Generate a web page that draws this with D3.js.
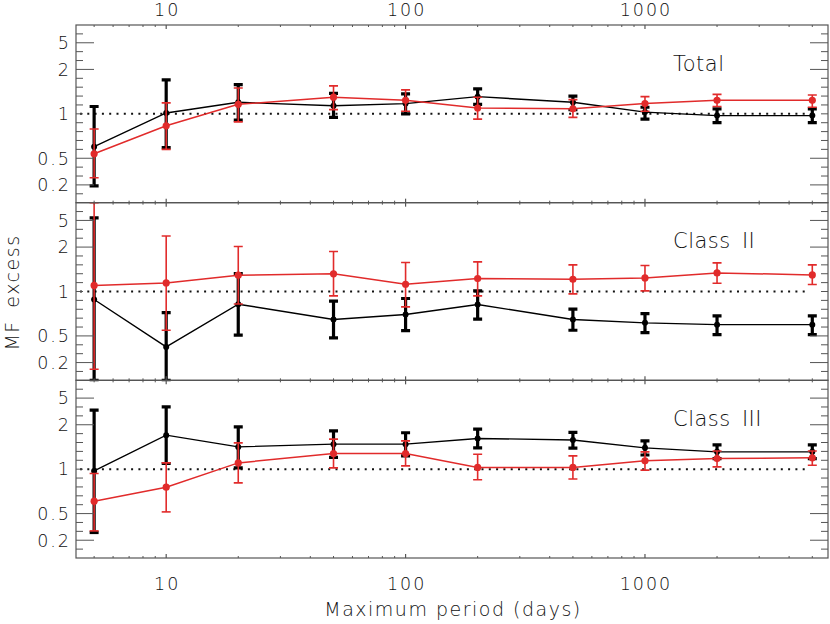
<!DOCTYPE html>
<html><head><meta charset="utf-8">
<script src="https://cdn.jsdelivr.net/npm/d3@7"></script>
<style>
html,body{margin:0;padding:0;background:#fff;}
text{font-family:"DejaVu Sans",sans-serif;font-weight:300;fill:#111;}
</style></head>
<body><svg id="c" width="830" height="624"></svg>
<script>
// ---- data ----
const periods = [5, 10, 20, 50, 100, 200, 500, 1000, 2000, 5000];
const panelNames = ["Total", "Class II", "Class III"];

// black series (value, lower, upper)
const totalBlack   = [0.63, 1.01, 1.15, 1.10, 1.13, 1.24, 1.15, 1.02, 0.98, 0.98];
const totalBlackLo = [0.19, 0.62, 0.93, 0.96, 1.00, 1.12, 1.05, 0.94, 0.90, 0.90];
const totalBlackHi = [1.09, 1.62, 1.49, 1.30, 1.29, 1.39, 1.25, 1.08, 1.06, 1.06];
const totalRed     = [0.55, 0.865, 1.12, 1.23, 1.18, 1.07, 1.06, 1.13, 1.18, 1.18];
const totalRedLo   = [0.28, 0.60, 0.91, 1.05, 1.03, 0.94, 0.96, 1.03, 1.09, 1.08];
const totalRedHi   = [0.83, 1.14, 1.41, 1.46, 1.37, 1.23, 1.19, 1.24, 1.28, 1.27];

const c2Black   = [0.91, 0.376, 0.857, 0.685, 0.741, 0.853, 0.685, 0.647, 0.627, 0.627];
const c2BlackLo = [0.0, 0.0, 0.508, 0.478, 0.56, 0.688, 0.564, 0.538, 0.514, 0.514];
const c2BlackHi = [5.85, 0.763, 1.253, 0.891, 0.921, 1.007, 0.801, 0.752, 0.725, 0.725];
const c2Red     = [1.073, 1.107, 1.225, 1.248, 1.089, 1.171, 1.16, 1.18, 1.265, 1.23];
const c2RedLo   = [0.125, 0.564, 0.86, 0.951, 0.827, 0.951, 0.973, 1.007, 1.103, 1.086];
const c2RedHi   = [1000, 2.67, 2.03, 1.82, 1.485, 1.5, 1.428, 1.413, 1.475, 1.428];

const c3Black   = [0.98, 1.62, 1.335, 1.392, 1.392, 1.529, 1.49, 1.316, 1.242, 1.242];
const c3BlackLo = [0.287, 1.068, 1.015, 1.152, 1.176, 1.316, 1.31, 1.19, 1.136, 1.136];
const c3BlackHi = [2.98, 3.35, 1.91, 1.76, 1.694, 1.82, 1.71, 1.468, 1.377, 1.377];
const c3Red     = [0.64, 0.797, 1.076, 1.214, 1.214, 1.02, 1.02, 1.104, 1.136, 1.146];
const c3RedLo   = [0.305, 0.519, 0.846, 1.015, 1.038, 0.881, 0.89, 0.989, 1.027, 1.047];
const c3RedHi   = [0.952, 1.076, 1.42, 1.51, 1.468, 1.203, 1.176, 1.242, 1.258, 1.258];

const yTickLabels = [0.2, 0.5, 1, 2, 5];
const yMinorTicks = [0.1,0.2,0.3,0.4,0.5,0.6,0.7,0.8,0.9,1,1.1111,1.25,1.4286,1.6667,2,2.5,3.3333,5,10];
const xMajorTicks = [10, 100, 1000];
const xMinorTicks = [5,6,7,8,9,20,30,40,50,60,70,80,90,200,300,400,500,600,700,800,900,2000,3000,4000,5000];

const panels = [
  {name: panelNames[0], black: [totalBlack, totalBlackLo, totalBlackHi], red: [totalRed, totalRedLo, totalRedHi]},
  {name: panelNames[1], black: [c2Black, c2BlackLo, c2BlackHi], red: [c2Red, c2RedLo, c2RedHi]},
  {name: panelNames[2], black: [c3Black, c3BlackLo, c3BlackHi], red: [c3Red, c3RedLo, c3RedHi]}
];

// ---- layout ----
const L = 76, R = 828, T = 25, B = 558;
const pH = (B - T) / 3;
const RED = "#e12b2b";
const FRAME = "#555";

const svg = d3.select("#c");
const x = d3.scaleLog().domain([4.2, 5815]).range([L, R]);
// symmetric excess transform: v<1 -> v-1 ; v>1 -> 1-1/v
const tf = v => v < 1 ? v - 1 : 1 - 1 / v;

panels.forEach((p, i) => {
  const top = T + i * pH, bot = top + pH;
  const ys = d3.scaleLinear().domain([-1, 1]).range([bot, top]);
  const y = v => ys(tf(v));
  const g = svg.append("g");
  const cid = "clip" + i;
  svg.append("clipPath").attr("id", cid).append("rect")
    .attr("x", L).attr("y", top - 1).attr("width", R - L).attr("height", pH + 2);
  const dg = g.append("g").attr("clip-path", `url(#${cid})`);

  // dotted reference line at 1
  dg.append("line").attr("x1", L + 4).attr("x2", R - 20).attr("y1", y(1)).attr("y2", y(1))
    .attr("stroke", "#111").attr("stroke-width", 2).attr("stroke-dasharray", "2,5.3");

  function drawSeries(s, color, barW, lineW, r) {
    const [val, lo, hi] = s;
    const pts = periods.map((d, k) => ({p: d, v: val[k], lo: lo[k], hi: hi[k]}));
    dg.append("path").datum(pts)
      .attr("d", d3.line().x(d => x(d.p)).y(d => y(d.v)))
      .attr("fill", "none").attr("stroke", color).attr("stroke-width", lineW);
    const eb = dg.append("g").selectAll("g").data(pts).join("g");
    eb.append("line").attr("x1", d => x(d.p)).attr("x2", d => x(d.p))
      .attr("y1", d => y(d.lo)).attr("y2", d => y(d.hi))
      .attr("stroke", color).attr("stroke-width", barW);
    [d => y(d.lo), d => y(d.hi)].forEach(fy => {
      eb.append("line").attr("x1", d => x(d.p) - 4.5).attr("x2", d => x(d.p) + 4.5)
        .attr("y1", fy).attr("y2", fy).attr("stroke", color).attr("stroke-width", barW);
    });
    eb.append("circle").attr("cx", d => x(d.p)).attr("cy", d => y(d.v)).attr("r", r).attr("fill", color);
  }
  drawSeries(p.black, "#000", 3.2, 1.4, 3);
  drawSeries(p.red, RED, 1.6, 1.5, 3.6);

  // frame
  g.append("rect").attr("x", L).attr("y", top).attr("width", R - L).attr("height", pH)
    .attr("fill", "none").attr("stroke", FRAME).attr("stroke-width", 1.2);

  // y ticks (both sides)
  yMinorTicks.forEach(v => {
    const isMaj = yTickLabels.includes(v) && v !== 1;
    const len = isMaj ? 18 : 7;
    g.append("line").attr("x1", L).attr("x2", L + len).attr("y1", y(v)).attr("y2", y(v))
      .attr("stroke", FRAME).attr("stroke-width", 1);
    g.append("line").attr("x1", R).attr("x2", R - len).attr("y1", y(v)).attr("y2", y(v))
      .attr("stroke", FRAME).attr("stroke-width", 1);
  });
  yTickLabels.forEach(v => {
    g.append("text").attr("x", 71).attr("y", y(v)).attr("dy", "0.36em")
      .attr("text-anchor", "end").attr("font-size", 17.5).attr("letter-spacing", 2).text(v);
  });

  // x ticks top & bottom of panel
  xMinorTicks.forEach(v => {
    g.append("line").attr("x1", x(v)).attr("x2", x(v)).attr("y1", top).attr("y2", top + 2)
      .attr("stroke", FRAME).attr("stroke-width", 1);
    g.append("line").attr("x1", x(v)).attr("x2", x(v)).attr("y1", bot).attr("y2", bot - 2)
      .attr("stroke", FRAME).attr("stroke-width", 1);
  });
  xMajorTicks.forEach(v => {
    g.append("line").attr("x1", x(v)).attr("x2", x(v)).attr("y1", top).attr("y2", top + 4)
      .attr("stroke", FRAME).attr("stroke-width", 1.2);
    g.append("line").attr("x1", x(v)).attr("x2", x(v)).attr("y1", bot).attr("y2", bot - 4)
      .attr("stroke", FRAME).attr("stroke-width", 1.2);
  });

  // panel label
  g.append("text").attr("x", 673).attr("y", top + 45.5).attr("font-size", 21)
    .attr("letter-spacing", 0.5).attr("word-spacing", 4).text(p.name);
});

// top & bottom x tick labels
xMajorTicks.forEach(v => {
  svg.append("text").attr("x", x(v) + 1).attr("y", 16).attr("text-anchor", "middle")
    .attr("font-size", 17.5).attr("letter-spacing", 2).text(v);
  svg.append("text").attr("x", x(v) + 1).attr("y", 590).attr("text-anchor", "middle")
    .attr("font-size", 17.5).attr("letter-spacing", 2).text(v);
});

svg.append("text").attr("x", (L + R) / 2 + 1).attr("y", 616).attr("text-anchor", "middle")
  .attr("font-size", 19).attr("letter-spacing", 1.5).text("Maximum period (days)");
svg.append("text").attr("transform", `translate(19,${(T + B) / 2 + 1}) rotate(-90)`)
  .attr("text-anchor", "middle").attr("font-size", 19).attr("letter-spacing", 1.5)
  .attr("word-spacing", 5).text("MF excess");
</script></body></html>
